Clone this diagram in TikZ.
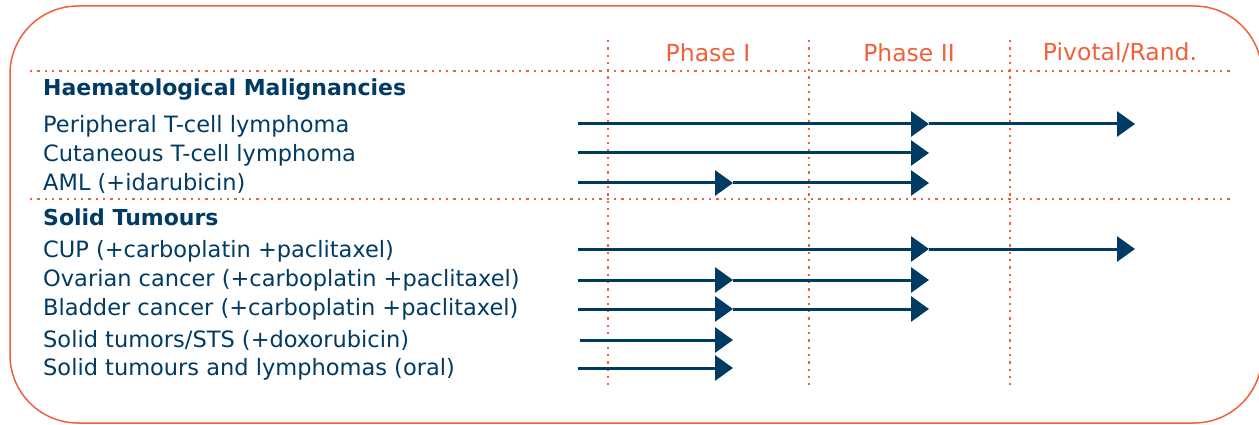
\documentclass[tikz,border=0pt]{standalone}
\usepackage{fontspec}
\setmainfont{DejaVu Sans}
\usetikzlibrary{arrows.meta}
\definecolor{orng}{HTML}{F0603A}
\definecolor{navy}{HTML}{003B64}
\begin{document}
\begin{tikzpicture}[x=1pt,y=-1pt,
  lbl/.style={anchor=west,text=navy,font=\fontsize{22.5}{24}\selectfont,inner sep=0pt},
  hdr/.style={anchor=west,text=navy,font=\fontsize{22}{24}\selectfont\bfseries,inner sep=0pt},
  phase/.style={text=orng,font=\fontsize{23.5}{25}\selectfont,inner sep=0pt},
  dotl/.style={draw=orng,line width=2.3pt,dash pattern=on 2.3pt off 5pt},
  bar/.style={draw=navy,line width=3pt,-{Triangle[length=18pt,width=25pt]}},
]
\useasboundingbox (0,0) rectangle (1259,425);
\draw[orng,line width=1.5pt,rounded corners=68pt] (10,6) rectangle (1262,423);
% grid
\draw[dotl] (30,71) -- (1230,71);
\draw[dotl] (30,199) -- (1230,199);
\foreach \x in {608,809,1010} \draw[dotl] (\x,40) -- (\x,386);
\node[phase] (p1) at (708,53) {Phase I};
\node[phase] (p2) at (909,53) {Phase II};
\node[phase] (p3) at (1120,53) {Pivotal/Rand.};
% labels
\node[hdr] (h1) at (43,90) {Haematological Malignancies};
\node[lbl] (r1) at (43,126) {Peripheral T-cell lymphoma};
\node[lbl] (r2) at (43,155) {Cutaneous T-cell lymphoma};
\node[lbl] (r3) at (43,183) {AML (+idarubicin)};
\node[hdr] (h2) at (43,217) {Solid Tumours};
\node[lbl] (r4) at (43,251) {CUP (+carboplatin +paclitaxel)};
\node[lbl] (r5) at (43,280) {Ovarian cancer (+carboplatin +paclitaxel)};
\node[lbl] (r6) at (43,309) {Bladder cancer (+carboplatin +paclitaxel)};
\node[lbl] (r7) at (43,340) {Solid tumors/STS (+doxorubicin)};
\node[lbl] (r8) at (43,369) {Solid tumours and lymphomas (oral)};
% coordinates
\coordinate (s1) at (578,124); \coordinate (a1) at (929,124); \coordinate (b1) at (1135,124);
\coordinate (s2) at (578,153); \coordinate (a2) at (929,153);
\coordinate (s3) at (578,183); \coordinate (m3) at (733,183); \coordinate (a3) at (929,183);
\coordinate (s4) at (578,249); \coordinate (a4) at (929,249); \coordinate (b4) at (1135,249);
\coordinate (s5) at (578,280); \coordinate (m5) at (733,280); \coordinate (a5) at (929,280);
\coordinate (s6) at (578,309); \coordinate (m6) at (733,309); \coordinate (a6) at (929,309);
\coordinate (s7) at (580,340); \coordinate (m7) at (733,340);
\coordinate (s8) at (578,368); \coordinate (m8) at (733,368);
\draw[bar] (s1) -- (a1); \draw[bar] (a1) -- (b1);
\draw[bar] (s2) -- (a2);
\draw[bar] (s3) -- (m3); \draw[bar] (m3) -- (a3);
\draw[bar] (s4) -- (a4); \draw[bar] (a4) -- (b4);
\draw[bar] (s5) -- (m5); \draw[bar] (m5) -- (a5);
\draw[bar] (s6) -- (m6); \draw[bar] (m6) -- (a6);
\draw[bar] (s7) -- (m7);
\draw[bar] (s8) -- (m8);
\end{tikzpicture}
\end{document}
